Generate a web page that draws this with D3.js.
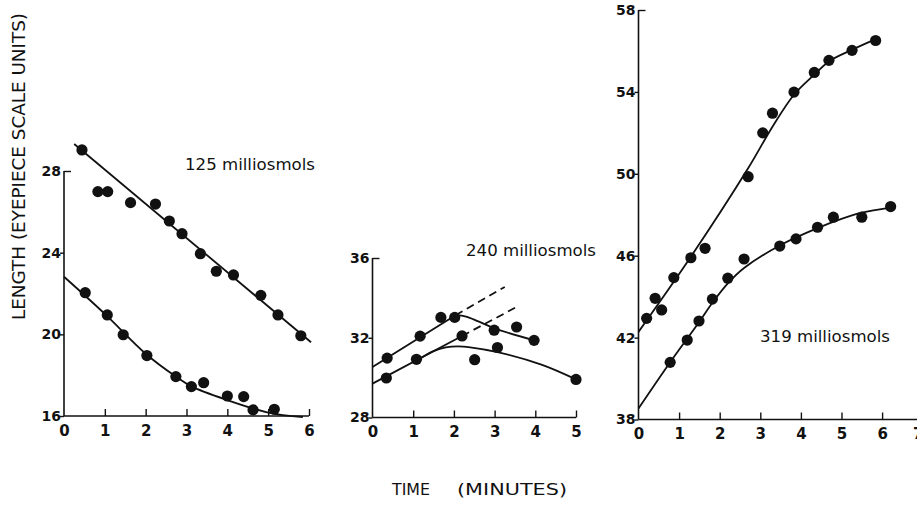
<!DOCTYPE html>
<html lang="en">
<head>
  <meta charset="UTF-8">
  <title>Length vs time at three osmolarities</title>
  <script src="https://d3js.org/d3.v7.min.js"></script>
  <style>
    body { margin: 0; background: #fff; }
    svg { display: block; font-family: "DejaVu Sans", sans-serif; }
    .fit { fill: none; stroke: #111; stroke-width: 1.8; }
    .dash { stroke-dasharray: 8 5; }
    .dot { fill: #111; }
  </style>
</head>
<body>
  <svg width="917" height="507"></svg>

  <script>
    // ---- data (time in minutes, length in eyepiece units) ----

    // 125 milliosmols
    const p1Upper = [[0.44,29.03],[0.83,26.99],[1.07,26.99],[1.63,26.45],[2.24,26.38],[2.58,25.55],[2.89,24.93],
                     [3.34,23.95],[3.73,23.09],[4.15,22.91],[4.82,21.91],[5.24,20.95],[5.80,19.93]];
    const p1Lower = [[0.52,22.04],[1.06,20.95],[1.45,19.98],[2.03,18.96],[2.74,17.93],[3.12,17.44],[3.42,17.63],
                     [4.00,16.98],[4.40,16.95],[4.63,16.30],[5.15,16.33]];
    const p1UpperFit = [[0.25,29.32],[6.05,19.61]];
    const p1LowerFit = [[0,22.82],[1,21.0],[2,19.05],[2.74,17.93],[3.12,17.45],[4,16.78],[5,16.17],[5.85,15.95]];

    // 240 milliosmols
    const p2Upper = [[0.36,30.98],[1.17,32.08],[1.68,33.02],[2.02,33.02],[2.99,32.38],[3.54,32.54],[3.97,31.87]];
    const p2Lower = [[0.34,29.98],[1.08,30.92],[2.20,32.09],[2.51,30.90],[3.07,31.51],[5.00,29.91]];
    const p2UpperLine = [[0,30.53],[2.04,33.13]];
    const p2UpperDash = [[2.04,33.13],[3.25,34.55]];
    const p2UpperFit = [[2.04,33.13],[2.3,33.06],[2.6,32.82],[3.0,32.47],[3.98,31.87]];
    const p2LowerLine = [[0,29.7],[2.2,32.09]];
    const p2LowerDash = [[2.2,32.09],[3.52,33.52]];
    const p2LowerFit = [[1.2,31.0],[1.5,31.33],[1.8,31.52],[2.1,31.57],[2.4,31.52],[3.07,31.28],[4.15,30.65],[5,29.91]];

    // 319 milliosmols
    const p3Upper = [[0.20,42.94],[0.41,43.92],[0.57,43.35],[0.87,44.93],[1.29,45.90],[1.64,46.36],[2.70,49.86],
                     [3.06,52.00],[3.30,52.96],[3.83,53.99],[4.33,54.95],[4.69,55.54],[5.26,56.03],[5.84,56.51]];
    const p3Lower = [[0.78,40.79],[1.20,41.88],[1.49,42.81],[1.82,43.88],[2.20,44.90],[2.60,45.84],[3.48,46.47],
                     [3.88,46.82],[4.41,47.39],[4.80,47.88],[5.50,47.88],[6.21,48.40]];
    const p3UpperFit = [[0,42.28],[1.29,45.95],[2.7,50.27],[3.3,52.3],[3.83,53.86],[4.33,54.84],[4.69,55.49],[5.26,56.06],[5.84,56.58]];
    const p3LowerFit = [[0,38.54],[0.78,40.8],[1.49,42.75],[1.82,43.7],[2.2,44.65],[2.6,45.4],[3.48,46.5],[4.41,47.35],[5.0,47.8],[5.5,48.1],[6.21,48.35]];

    // tick values
    const p1XTicks = [0,1,2,3,4,5,6];
    const p1YTicks = [16,20,24,28];
    const p2XTicks = [0,1,2,3,4,5];
    const p2YTicks = [28,32,36];
    const p3XTicks = [0,1,2,3,4,5,6,7];
    const p3YTicks = [38,42,46,50,54,58];

    const svg = d3.select("svg");

    function drawPanel(opt) {
      const x = d3.scaleLinear().domain(opt.xDomain).range(opt.xRange);
      const y = d3.scaleLinear().domain(opt.yDomain).range(opt.yRange);
      const g = svg.append("g");
      const yTop = d3.max(opt.yTicks);

      // axes lines
      g.append("line")
        .attr("x1", x(0)).attr("x2", x(0))
        .attr("y1", y(opt.yDomain[0])).attr("y2", y(yTop))
        .attr("stroke", "#111").attr("stroke-width", 1.6);
      g.append("line")
        .attr("x1", x(0)).attr("x2", opt.xAxisEnd)
        .attr("y1", y(opt.yDomain[0])).attr("y2", y(opt.yDomain[0]))
        .attr("stroke", "#111").attr("stroke-width", 1.6);

      // y axis: top tick points inward, others outward
      const ya = g.append("g")
        .attr("transform", `translate(${x(0)},0)`)
        .call(d3.axisLeft(y).tickValues(opt.yTicks).tickSize(4).tickPadding(2).tickFormat(d3.format("d")));
      ya.select(".domain").remove();
      ya.selectAll(".tick line")
        .attr("x2", d => d === yTop ? 7 : -4)
        .attr("stroke", "#111").attr("stroke-width", 1.4);
      ya.selectAll(".tick text")
        .attr("x", -3)
        .attr("fill", "#111")
        .style("font-family", "'DejaVu Sans', sans-serif")
        .style("font-weight", "bold")
        .style("font-size", "14px");

      // x axis: ticks point up into the plot
      const xa = g.append("g")
        .attr("transform", `translate(0,${y(opt.yDomain[0])})`)
        .call(d3.axisBottom(x).tickValues(opt.xTicks).tickSize(-7).tickPadding(9).tickFormat(d3.format("d")));
      xa.select(".domain").remove();
      xa.selectAll(".tick line")
        .attr("stroke", "#111").attr("stroke-width", 1.4)
        .attr("opacity", d => d === 0 ? 0 : 1);
      xa.selectAll(".tick text")
        .attr("fill", "#111")
        .style("font-family", "'DejaVu Sans', sans-serif")
        .style("font-weight", "bold")
        .style("font-size", "15px")
        .attr("dx", d => d === 7 ? -5 : 0);

      const line = d3.line().x(d => x(d[0])).y(d => y(d[1]));
      const smooth = d3.line().x(d => x(d[0])).y(d => y(d[1])).curve(d3.curveCatmullRom.alpha(0.5));

      opt.lines.forEach(l => g.append("path").datum(l).attr("class", "fit").attr("d", line));
      opt.curves.forEach(c => g.append("path").datum(c).attr("class", "fit").attr("d", smooth));
      (opt.dashes || []).forEach(l => g.append("path").datum(l).attr("class", "fit dash").attr("d", line));

      opt.points.forEach(series => {
        g.selectAll(null).data(series).enter().append("circle")
          .attr("class", "dot")
          .attr("cx", d => x(d[0]))
          .attr("cy", d => y(d[1]))
          .attr("r", 5.6);
      });

      g.append("text")
        .attr("x", opt.label.x).attr("y", opt.label.y)
        .attr("textLength", 130).attr("lengthAdjust", "spacingAndGlyphs")
        .style("font-size", "16.5px").attr("fill", "#111")
        .text(opt.label.text);
    }

    drawPanel({
      xDomain: [0, 6], xRange: [64, 309], xAxisEnd: 309,
      yDomain: [16, 28], yRange: [416, 171],
      xTicks: p1XTicks, yTicks: p1YTicks,
      lines: [p1UpperFit], curves: [p1LowerFit],
      points: [p1Upper, p1Lower],
      label: { text: "125 milliosmols", x: 185, y: 170 }
    });

    drawPanel({
      xDomain: [0, 5], xRange: [372.5, 576], xAxisEnd: 576,
      yDomain: [28, 36], yRange: [417.5, 258],
      xTicks: p2XTicks, yTicks: p2YTicks,
      lines: [p2UpperLine, p2LowerLine], curves: [p2UpperFit, p2LowerFit],
      dashes: [p2UpperDash, p2LowerDash],
      points: [p2Upper, p2Lower],
      label: { text: "240 milliosmols", x: 466, y: 256 }
    });

    drawPanel({
      xDomain: [0, 7], xRange: [638.5, 922.7], xAxisEnd: 917,
      yDomain: [38, 58], yRange: [419.5, 10],
      xTicks: p3XTicks, yTicks: p3YTicks,
      lines: [], curves: [p3UpperFit, p3LowerFit],
      points: [p3Upper, p3Lower],
      label: { text: "319 milliosmols", x: 760, y: 341.5 }
    });

    // shared axis titles
    svg.append("text")
      .attr("transform", "translate(25,166.5) rotate(-90)")
      .attr("text-anchor", "middle")
      .attr("textLength", 307).attr("lengthAdjust", "spacingAndGlyphs")
      .style("font-size", "17.5px").attr("fill", "#111")
      .text("LENGTH (EYEPIECE SCALE UNITS)");

    svg.append("text")
      .attr("x", 392).attr("y", 495)
      .attr("textLength", 38).attr("lengthAdjust", "spacingAndGlyphs")
      .style("font-size", "16.5px").attr("fill", "#111")
      .text("TIME");
    svg.append("text")
      .attr("x", 457).attr("y", 495)
      .attr("textLength", 110).attr("lengthAdjust", "spacingAndGlyphs")
      .style("font-size", "16.5px").attr("fill", "#111")
      .text("(MINUTES)");
  </script>
</body>
</html>
